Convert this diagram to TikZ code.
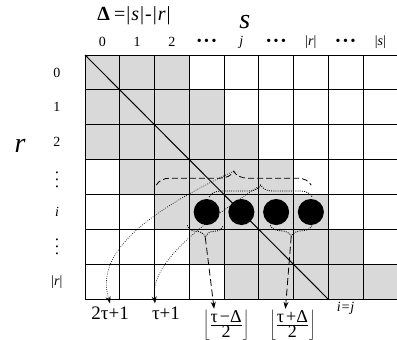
\documentclass[tikz,border=0pt]{standalone}
\usepackage{fontspec}
\setmainfont{Liberation Serif}
\usetikzlibrary{arrows.meta, calc, decorations.pathreplacing}

\newcommand{\hdts}{\textbullet\kern2.5pt\textbullet\kern2.5pt\textbullet}
\newcommand{\vdts}{\textbullet\\\textbullet\\\textbullet}

\begin{document}
\begin{tikzpicture}[x=34.7pt, y=-34.85pt, >={Stealth[length=7pt,width=5pt]}]
  \tikzstyle{band} = [fill=black!15]
  \tikzstyle{ball} = [circle, fill=black, minimum size=26pt, inner sep=0pt]
  \tikzstyle{idx} = [font=\fontsize{14}{16}\selectfont, inner sep=1pt]
  \tikzstyle{vdot} = [font=\fontsize{8}{7}\selectfont, align=center, inner sep=0pt]
  \tikzstyle{big} = [font=\fontsize{28}{30}\selectfont\itshape, inner sep=0pt]
  \tikzstyle{res} = [font=\fontsize{19}{21}\selectfont, inner sep=3pt]
  \tikzstyle{frc} = [font=\fontsize{18}{20}\selectfont, inner sep=1pt]
  \tikzstyle{dsh} = [line width=0.8pt, dash pattern=on 6pt off 3pt]
  \tikzstyle{dts} = [line width=0.8pt, dash pattern=on 1pt off 1.2pt]
  \tikzstyle{fine} = [line width=0.6pt, dash pattern=on 0.8pt off 1.4pt]
  \tikzset{brc/.style={decorate, decoration={brace, amplitude=#1}},
           brcm/.style={decorate, decoration={brace, mirror, amplitude=#1}}}

  \useasboundingbox (-2.45,-1.578) rectangle (8.98,8.15);
  \clip (-2.45,-1.578) rectangle (8.98,8.15);

  % band |row-col| <= 2
  \foreach \r in {0,...,6}
    \foreach \c in {0,...,8} {
      \pgfmathtruncatemacro{\dd}{abs(\c-\r)}
      \ifnum\dd<3 \fill[band] (\c,\r) rectangle ++(1,1); \fi
    }
  \foreach \c in {0,...,9} \draw[line width=0.9pt] (\c,0) -- (\c,7);
  \foreach \r in {0,...,7} \draw[line width=0.9pt] (0,\r) -- (9,\r);
  \draw[line width=1pt] (0,0) -- (7,7);

  % labels
  \node[font=\fontsize{20}{22}\selectfont, inner sep=0pt] (delta) at (1.41,-1.12)
    {\textbf{Δ}\kern4pt=\kern1pt|\kern1pt\textit{s}\kern1pt|\kern1pt-\kern1pt|\kern1pt\textit{r}\kern1pt|};
  \node[big] (sx) at (4.6,-0.95) {s};
  \node[big] (ry) at (-1.87,2.61) {r};
  \foreach \t [count=\k from 0] in {0,1,2,\hdts,\textit{j},\hdts,|\textit{r}|,\hdts,|\textit{s}|}
    \node[idx] (c\k) at (\k+0.5,-0.37) {\t};
  \node[idx] (r0) at (-0.81,0.5) {0};
  \node[idx] (r1) at (-0.81,1.5) {1};
  \node[idx] (r2) at (-0.81,2.5) {2};
  \node[vdot] (r3) at (-0.81,3.6) {\vdts};
  \node[idx] (r4) at (-0.81,4.5) {\textit{i}};
  \node[vdot] (r5) at (-0.81,5.52) {\vdts};
  \node[idx] (r6) at (-0.81,6.5) {|\textit{r}|};
  \node[idx, font=\fontsize{14}{16}\selectfont\itshape] (ij) at (7.5,7.27) {i=j};

  % braces
  \coordinate (a1) at (2.05,3.73); \coordinate (a2) at (6.51,3.73);
  \coordinate (b1) at (3.57,4.07); \coordinate (b2) at (6.54,4.07);
  \coordinate (c1) at (2.94,4.88); \coordinate (c2) at (3.98,4.88);
  \coordinate (d1) at (5.33,4.88); \coordinate (d2) at (6.54,4.88);
  \draw[dsh, brc=14pt] (a1) -- (a2);
  \draw[dts, brc=12pt] (b1) -- (b2);
  \draw[dts, brcm=12pt] (c1) -- (c2);
  \draw[dts, brcm=11pt] (d1) -- (d2);
  \coordinate (ta) at ($(a1)!0.5!(a2)+(0,14pt)$);
  \coordinate (tb) at ($(b1)!0.5!(b2)+(0,12pt)$);
  \coordinate (tc) at ($(c1)!0.5!(c2)+(0,-12pt)$);
  \coordinate (td) at ($(d1)!0.5!(d2)+(0,-11pt)$);

  % results
  \node[res, anchor=north] (t2) at (0.72,7.12) {2τ+1};
  \node[res, anchor=north] (t1) at (2.33,7.12) {τ+1};
  \node[frc] (f1) at (4.06,7.74)
    {$\left\lfloor\frac{\mbox{τ\kern2pt −Δ}}{\mbox{2}}\right\rfloor$};
  \node[frc] (f2) at (5.97,7.74)
    {$\left\lfloor\frac{\mbox{τ\kern2pt +Δ}}{\mbox{2}}\right\rfloor$};

  \draw[fine, ->] (ta) .. controls (1.585,4.59) and (0.29,5.74) .. (t2.north);
  \draw[fine, ->] (tb) .. controls (3.31,4.88) and (1.87,5.94) .. ($(t1.north)+(-11pt,0)$);
  \draw[dsh, ->, dash pattern=on 7pt off 3.5pt] (tc) -- ($(f1.north)+(-12pt,0)$);
  \draw[dsh, ->, dash pattern=on 7pt off 3.5pt] (td) -- ($(f2.north)+(-7pt,0)$);

  \foreach \c in {3,...,6}
    \node[ball] (p\c) at (\c+0.5,4.5) {};
\end{tikzpicture}
\end{document}
